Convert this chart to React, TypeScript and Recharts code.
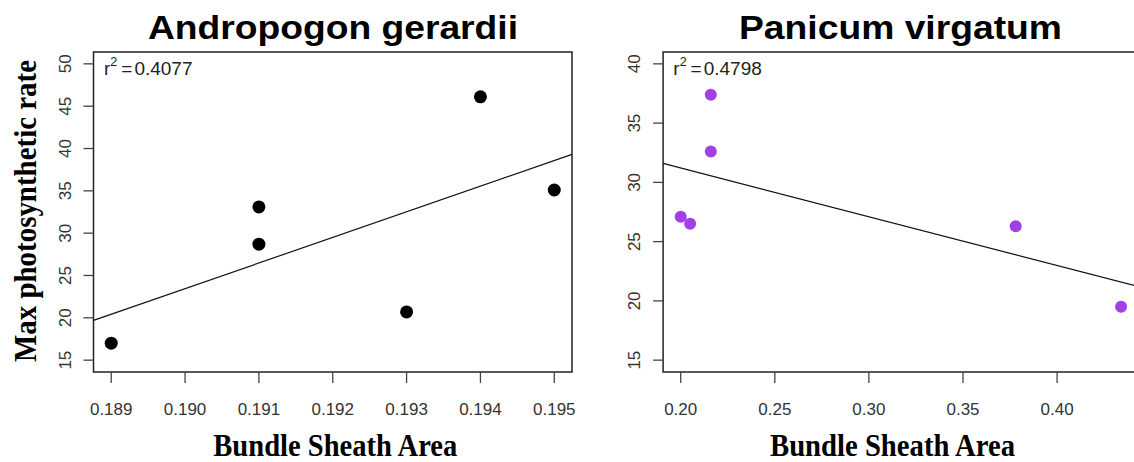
import React from 'react';
import { ScatterChart, Scatter, XAxis, YAxis, ReferenceArea, ReferenceLine } from 'recharts';

// values
const agX = [0.189, 0.191, 0.191, 0.193, 0.194, 0.195];
const agY = [17.0, 33.1, 28.7, 20.7, 46.1, 35.1];
const agXTicks = [0.189, 0.19, 0.191, 0.192, 0.193, 0.194, 0.195];
const agYTicks = [15, 20, 25, 30, 35, 40, 45, 50];
const agFit = [
  { x: 0.18876, y: 19.7 },
  { x: 0.19524, y: 39.3 },
];

const pvX = [0.2, 0.205, 0.216, 0.216, 0.378, 0.434];
const pvY = [27.1, 26.5, 37.4, 32.6, 26.3, 19.5];
const pvXTicks = [0.2, 0.25, 0.3, 0.35, 0.4];
const pvYTicks = [15, 20, 25, 30, 35, 40];
const pvFit = [
  { x: 0.19064, y: 31.6 },
  { x: 0.44336, y: 21.2 },
];

const SANS = '"Liberation Sans", Arial, sans-serif';
const SERIF = '"Liberation Serif", "Times New Roman", serif';

const toPoints = (xs: number[], ys: number[]) => xs.map((x, i) => ({ x, y: ys[i] }));

type PanelProps = {
  left: number;
  width: number;
  plotLeft: number;
  plotRight: number;
  xDomain: [number, number];
  yDomain: [number, number];
  xTicks: number[];
  yTicks: number[];
  decimals: number;
  points: { x: number; y: number }[];
  fit: { x: number; y: number }[];
  color: string;
  radius: number;
};

const Panel = (p: PanelProps) => {
  const XTick = (props: any) => (
    <text x={props.x} y={props.y + 32} textAnchor="middle" fontFamily={SANS} fontSize={17} fill="#333">
      {Number(props.payload.value).toFixed(p.decimals)}
    </text>
  );
  const YTick = (props: any) => {
    const cx = props.x - 19;
    const cy = props.y;
    return (
      <text
        x={cx}
        y={cy}
        dy="0.36em"
        transform={`rotate(-90, ${cx}, ${cy})`}
        textAnchor="middle"
        fontFamily={SANS}
        fontSize={17}
        fill="#333"
      >
        {props.payload.value}
      </text>
    );
  };
  return (
    <div style={{ position: 'absolute', left: p.left, top: 0 }}>
      <ScatterChart
        width={p.width}
        height={462}
        margin={{ top: 52, right: p.width - p.plotRight, bottom: 0, left: 0 }}
      >
        <XAxis
          type="number"
          dataKey="x"
          domain={p.xDomain}
          allowDataOverflow
          ticks={p.xTicks}
          interval={0}
          height={90}
          axisLine={false}
          tickSize={11}
          tickMargin={0}
          tickLine={{ stroke: '#444', strokeWidth: 1.3 }}
          tick={XTick}
        />
        <YAxis
          type="number"
          dataKey="y"
          domain={p.yDomain}
          allowDataOverflow
          ticks={p.yTicks}
          interval={0}
          width={p.plotLeft}
          axisLine={false}
          tickSize={10}
          tickMargin={0}
          tickLine={{ stroke: '#444', strokeWidth: 1.3 }}
          tick={YTick}
        />
        <ReferenceArea
          x1={p.xDomain[0]}
          x2={p.xDomain[1]}
          y1={p.yDomain[0]}
          y2={p.yDomain[1]}
          fill="none"
          fillOpacity={0}
          stroke="#222"
          strokeWidth={1.5}
          ifOverflow="visible"
        />
        <ReferenceLine
          segment={p.fit}
          stroke="#111"
          strokeWidth={1.2}
          ifOverflow="visible"
        />
        <Scatter
          data={p.points}
          isAnimationActive={false}
          shape={(s: any) => <circle cx={s.cx} cy={s.cy} r={p.radius} fill={p.color} />}
        />
      </ScatterChart>
    </div>
  );
};

const R2 = ({ x, value }: { x: number; value: string }) => (
  <text x={x} y={75} fontFamily={SANS} fontSize={19} fill="#222">
    r
    <tspan dy={-9} fontSize={12.5}>2</tspan>
    <tspan dy={9} dx={4}>=</tspan>
    <tspan dx={2}>{value}</tspan>
  </text>
);

export default function App() {
  return (
    <div
      style={{
        position: 'absolute',
        left: 0,
        top: 0,
        width: 1134,
        height: 462,
        overflow: 'hidden',
        background: '#fff',
      }}
    >
      <Panel
        left={0}
        width={580}
        plotLeft={93.5}
        plotRight={572}
        xDomain={[0.18876, 0.19524]}
        yDomain={[13.6, 51.4]}
        xTicks={agXTicks}
        yTicks={agYTicks}
        decimals={3}
        points={toPoints(agX, agY)}
        fit={agFit}
        color="#000"
        radius={6.5}
      />
      <Panel
        left={580}
        width={570}
        plotLeft={83.1}
        plotRight={558.7}
        xDomain={[0.19064, 0.44336]}
        yDomain={[14, 41]}
        xTicks={pvXTicks}
        yTicks={pvYTicks}
        decimals={2}
        points={toPoints(pvX, pvY)}
        fit={pvFit}
        color="#A23FE6"
        radius={6}
      />
      <svg
        width={1134}
        height={462}
        style={{ position: 'absolute', left: 0, top: 0, pointerEvents: 'none' }}
      >
        <text x={333} y={39.3} textAnchor="middle" fontFamily={SANS} fontWeight="bold" fontSize={34}
          textLength={370} lengthAdjust="spacingAndGlyphs" fill="#000">
          Andropogon gerardii
        </text>
        <text x={900.5} y={39.3} textAnchor="middle" fontFamily={SANS} fontWeight="bold" fontSize={34}
          textLength={323} lengthAdjust="spacingAndGlyphs" fill="#000">
          Panicum virgatum
        </text>
        <text x={335.3} y={456} textAnchor="middle" fontFamily={SERIF} fontWeight="bold" fontSize={31}
          textLength={244} lengthAdjust="spacingAndGlyphs" fill="#000">
          Bundle Sheath Area
        </text>
        <text x={892.5} y={456} textAnchor="middle" fontFamily={SERIF} fontWeight="bold" fontSize={31}
          textLength={245} lengthAdjust="spacingAndGlyphs" fill="#000">
          Bundle Sheath Area
        </text>
        <text x={35.5} y={211} transform="rotate(-90, 35.5, 211)" textAnchor="middle" fontFamily={SERIF}
          fontWeight="bold" fontSize={32.5} textLength={302} lengthAdjust="spacingAndGlyphs" fill="#000">
          Max photosynthetic rate
        </text>
        <R2 x={104} value="0.4077" />
        <R2 x={673.3} value="0.4798" />
      </svg>
    </div>
  );
}
